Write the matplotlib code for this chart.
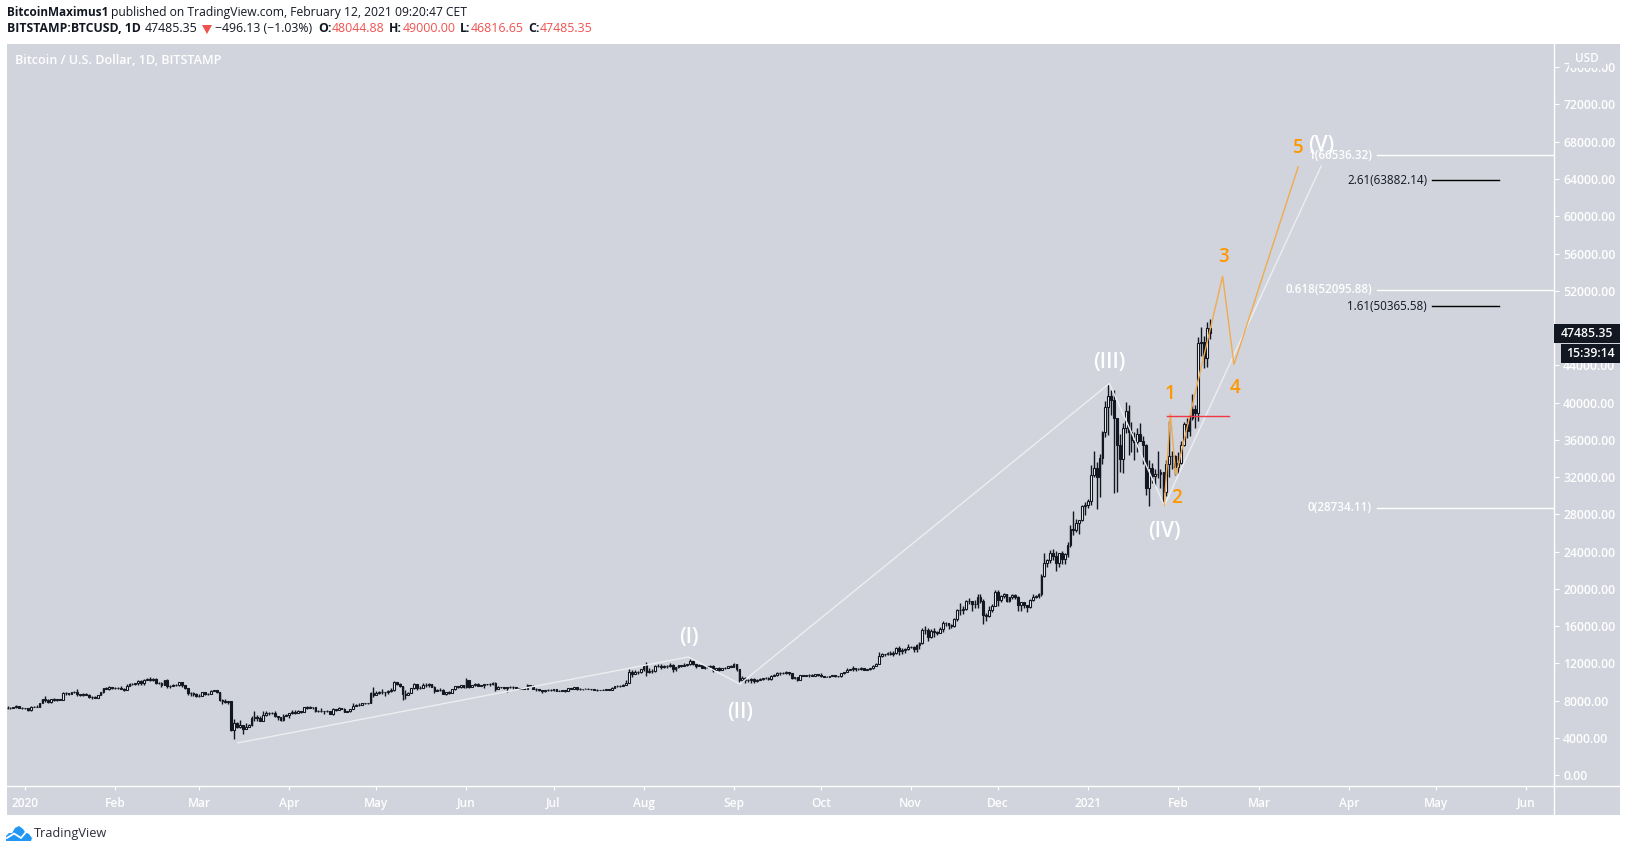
import numpy as np
import matplotlib
matplotlib.use("Agg")
import matplotlib.pyplot as plt
from matplotlib.patches import Rectangle, Polygon
from matplotlib.lines import Line2D

W, H = 1627, 852
plt.rcParams['font.family'] = ['Open Sans', 'DejaVu Sans']

# ---- daily candles, 2019-12-26 .. 2021-02-12
close_2019_12 = [7190,7240,7300,7390,7220,7170]
high_2019_12 = [7440,7270,7360,7520,7400,7320]
low_2019_12 = [7150,7080,7240,7260,7180,7150]
close_2020_01 = [7200,6950,7340,7350,7350,7760,8150,8050,7820,8190,8020,8180,8110,8810,8820,8720,8900,8900,8700,8630,8720,8660,8390,8430,8330,8590,8890,9380,9290,9500,9340]
high_2020_01 = [7250,7220,7400,7390,7500,7800,8210,8460,8180,8200,8300,8200,8200,8880,8910,8860,8980,9000,9200,8750,8780,8790,8680,8520,8450,8600,8970,9410,9440,9540,9490]
low_2020_01 = [7150,6930,6880,7270,7320,7340,7730,7880,7730,7700,7970,8010,8070,8100,8570,8610,8680,8790,8480,8530,8480,8570,8280,8230,8270,8290,8560,8850,9210,9180,9230]
close_2020_02 = [9380,9330,9290,9170,9620,9750,9800,9900,10160,9850,10270,10360,10240,10360,9900,9930,9700,10180,9600,9600,9700,9660,9960,9650,9310,8780,8820,8710,8520]
high_2020_02 = [9460,9470,9610,9350,9770,9860,9880,9950,10180,10180,10310,10480,10490,10390,10390,10050,9970,10250,10300,9680,9770,9740,9990,10020,9680,9380,8980,8900,8800]
low_2020_02 = [9300,9260,9230,9090,9160,9540,9730,9660,9730,9730,9700,10260,10100,10120,9780,9740,9470,9640,9400,9390,9560,9570,9600,9510,9220,8620,8530,8450,8420]
close_2020_03 = [8520,8910,8760,8755,9070,9150,8890,8040,7930,7890,7940,4860,5570,5170,5350,5010,5220,5420,6190,6200,6190,5830,6480,6730,6680,6730,6370,6240,5880,6390,6410]
high_2020_03 = [8760,8950,8910,8850,9170,9180,9190,8900,8180,8150,8000,7940,6000,5660,5960,5380,5560,5460,6400,6900,6440,6400,6850,6840,6770,6800,6850,6300,6250,6530,6520]
low_2020_03 = [8420,8500,8660,8660,8760,9020,8820,8000,7630,7730,7600,4700,3860,5100,5090,4450,5000,5150,5310,5840,5790,5770,5770,6390,6500,6560,6250,5950,5860,5860,6360]
close_2020_04 = [6640,6790,6730,6860,6780,7340,7200,7370,7300,6860,6880,6915,6850,6860,6620,7120,7030,7250,7130,6830,6850,7130,7480,7510,7540,7700,7790,7760,8790,8620]
high_2020_04 = [6680,7000,7000,7000,6900,7370,7460,7420,7370,7320,6950,7180,6880,6990,6940,7190,7150,7290,7260,7210,6940,7150,7770,7600,7700,7720,7800,7780,8960,9450]
low_2020_04 = [6160,6610,6600,6710,6680,6770,7100,7170,7150,6780,6760,6800,6550,6800,6580,6480,6900,7030,7060,6800,6770,6810,7110,7410,7450,7490,7640,7680,7710,8400]
close_2020_05 = [8830,8970,8900,8880,9030,9150,9990,9810,9540,8730,8570,8810,9310,9790,9310,9380,9670,9730,9780,9510,9060,9170,9180,8720,8900,8840,9200,9570,9430,9700,9450]
high_2020_05 = [9060,9040,9200,8960,9100,9400,10070,10040,9900,9580,9170,8980,9380,9940,9840,9580,9880,9950,9890,9840,9580,9270,9310,9300,8980,9020,9220,9620,9600,9720,9700]
low_2020_05 = [8620,8750,8750,8530,8760,8950,9080,9710,9510,8120,8200,8560,8790,9270,9130,9240,9330,9460,9470,9430,8840,9010,9080,8700,8640,8700,8820,9110,9330,9340,9390]
close_2020_06 = [10200,9520,9660,9790,9620,9670,9750,9780,9780,9890,9270,9470,9470,9330,9430,9520,9460,9380,9290,9360,9290,9690,9620,9290,9240,9160,9000,9110,9190,9140]
high_2020_06 = [10400,10230,9700,9880,9850,9730,9800,9800,9880,9990,9970,9560,9490,9490,9500,9580,9540,9480,9400,9400,9410,9780,9720,9680,9340,9290,9190,9190,9230,9200]
low_2020_06 = [9410,9380,9430,9530,9580,9530,9380,9680,9570,9670,9090,9240,9390,9250,8890,9360,9250,9280,9210,9200,9220,9280,9570,9210,9080,9040,8820,8950,9000,9080]
close_2020_07 = [9230,9090,9060,9130,9070,9340,9250,9430,9240,9290,9240,9300,9240,9260,9190,9130,9150,9170,9210,9160,9390,9530,9610,9540,9700,9930,11040,10910,11100,11110,11350]
high_2020_07 = [9290,9260,9130,9190,9140,9360,9370,9460,9450,9320,9290,9340,9340,9280,9270,9210,9190,9220,9230,9220,9430,9560,9680,9650,9740,10170,11400,11240,11340,11180,11450]
low_2020_07 = [9090,9040,9040,9050,8970,9060,9200,9230,9150,9130,9190,9210,9200,9130,9160,9020,9120,9130,9130,9130,9150,9380,9510,9460,9530,9640,9930,10560,10880,10840,10980]
close_2020_08 = [11800,11070,11230,11190,11740,11760,11600,11760,11680,11880,11410,11580,11780,11770,11860,11910,12300,11950,11750,11860,11520,11680,11650,11760,11330,11470,11320,11530,11480,11710,11650]
high_2020_08 = [11880,12100,11480,11420,11800,11900,11920,11800,11800,12060,11940,11620,11800,11850,12020,11930,12470,12400,11970,11890,11880,11690,11710,11830,11780,11540,11590,11550,11590,11720,11790]
low_2020_08 = [11220,10600,11000,11000,11090,11600,11350,11530,11520,11660,11130,11160,11500,11620,11680,11680,11820,11830,11560,11670,11500,11380,11520,11590,11120,11260,11140,11280,11430,11470,11570]
close_2020_09 = [11920,11400,10170,10470,10170,10260,10380,10120,10230,10340,10390,10440,10330,10680,10790,10950,10940,10930,11080,10920,10420,10530,10240,10740,10690,10730,10770,10690,10840,10780]
high_2020_09 = [12070,11950,11450,10640,10570,10370,10400,10430,10350,10480,10410,10580,10570,10760,10840,11100,11040,11040,11180,11050,10990,10570,10530,10790,10760,10800,10810,10860,10860,10850]
low_2020_09 = [11650,11180,10010,9990,9880,10000,9870,9860,10000,10210,10220,10300,10210,10270,10630,10670,10760,10810,10890,10800,10350,10370,10140,10220,10620,10650,10560,10650,10640,10660]
close_2020_10 = [10620,10570,10550,10670,10790,10600,10670,10920,11060,11300,11370,11540,11420,11430,11500,11320,11360,11500,11750,11920,12820,12980,13030,13130,13040,13070,13650,13280,13460,13560,13800]
high_2020_10 = [10930,10670,10600,10700,10800,10800,10680,10960,11110,11490,11400,11730,11550,11560,11640,11550,11430,11520,11820,12020,13200,13170,13050,13200,13350,13350,13780,13860,13640,13670,14100]
low_2020_10 = [10540,10490,10510,10520,10640,10540,10570,10530,10830,11080,11250,11190,11200,11280,11260,11240,11260,11340,11410,11690,11890,12680,12770,12900,12900,12800,12990,12940,12990,13110,13440]
close_2020_11 = [13760,13560,14030,14150,15590,15590,14840,15480,15330,15310,15700,16290,16320,16070,15970,16720,17680,17780,17820,18680,18700,18430,18370,19160,18730,17150,17140,17720,18190,19700]
high_2020_11 = [13890,13830,14070,14270,15750,15970,15770,15670,15850,15480,15960,16500,16490,16350,16180,16880,17860,18480,18180,18810,18970,18750,18770,19400,19500,18900,17450,18200,18340,19850]
low_2020_11 = [13620,13220,13260,13530,14100,15200,14400,14710,14860,15090,15280,15420,15980,15720,15790,15860,16560,17220,17350,17750,18340,17600,18000,18000,18520,16230,16500,17000,17550,18170]
close_2020_12 = [18800,19230,19440,18650,19150,19370,19170,18320,18550,18250,18040,18800,19170,19280,19440,21350,22800,23130,23860,23480,22750,23820,23240,23730,24700,26450,26280,27030,27360,28880,28990]
high_2020_12 = [19900,19300,19570,19500,19180,19420,19400,19250,18630,18560,18290,18940,19400,19340,19550,21550,23800,23260,24170,24300,24100,23840,24100,23800,25000,26900,28380,27500,27400,28970,29300]
low_2020_12 = [18150,18590,19030,18600,18540,18940,18900,17650,17600,17900,17570,17930,18720,19000,19050,19280,21230,22350,22760,23060,21900,22400,22700,22700,23430,24500,25800,26100,25870,27300,27900]
close_2021_01 = [29400,32200,33000,32000,34000,36800,39500,40700,40250,38300,35500,33900,37300,39150,36800,36000,35800,36600,35900,35500,30800,33000,32100,32300,32300,32500,30400,33400,34300,34300,33100]
high_2021_01 = [29700,33300,34800,33650,34500,37000,40200,41950,41350,41300,38250,36600,37800,40100,39700,37900,36800,37300,37800,36400,35600,33800,33500,32900,34800,32900,32500,33800,38000,34800,34400]
low_2021_01 = [28700,29000,32000,28600,29900,33400,36300,36500,38700,30300,30400,32500,32400,36700,34400,34700,33800,34700,35900,33400,30100,28900,31400,31000,31900,30800,29300,30000,32000,32900,32200]
close_2021_02 = [33500,35500,37700,36900,38300,39300,38900,46400,46500,44800,47981,47485.35]
high_2021_02 = [34700,35900,37900,38300,38700,40900,39700,47000,48100,47200,48600,49000]
low_2021_02 = [32300,33400,35350,36200,36400,38100,37300,38000,45000,43700,43800,46816.65]

months = ['2019_12','2020_01','2020_02','2020_03','2020_04','2020_05','2020_06','2020_07','2020_08','2020_09','2020_10','2020_11','2020_12','2021_01','2021_02']
ns = globals()
closes = np.concatenate([ns['close_' + m] for m in months]).astype(float)
highs = np.concatenate([ns['high_' + m] for m in months]).astype(float)
lows = np.concatenate([ns['low_' + m] for m in months]).astype(float)
opens = np.r_[7220.0, closes[:-1]]
opens[-1] = 48044.88
days = np.arange(len(closes)) - len(close_2019_12)   # days since 2020-01-01

# ---- time axis labels (first of month)
tick_dates = ['2020-01-01','2020-02-01','2020-03-01','2020-04-01','2020-05-01','2020-06-01','2020-07-01','2020-08-01','2020-09-01','2020-10-01','2020-11-01','2020-12-01','2021-01-01','2021-02-01','2021-03-01','2021-04-01','2021-05-01','2021-06-01']
tick_labels = ['2020','Feb','Mar','Apr','May','Jun','Jul','Aug','Sep','Oct','Nov','Dec','2021','Feb','Mar','Apr','May','Jun']
price_ticks = list(range(0, 76001, 4000))

# ---- wave counts: x in days since 2020-01-01, y in USD
white_x = [73.3, 228.4, 246.2, 373.4, 392.3, 446.3]
white_y = [3470, 12690, 9790, 42050, 28950, 65380]
white_labels = ['(I)', '(II)', '(III)', '(IV)', '(V)']
white_label_x = [228.7, 246.2, 373.4, 392.3, 446.3]
white_label_y = [14780, 6780, 44280, 26180, 67650]
orange_x = [392.3, 394.4, 396.3, 412.4, 416.3, 438.4]
orange_y = [28950, 38830, 32200, 53570, 44070, 65300]
orange_labels = ['1', '2', '3', '4', '5']
orange_label_x = [394.4, 396.5, 412.6, 416.6, 438.4]
orange_label_y = [40880, 29780, 55650, 41610, 67380]
red_x = [393.3, 414.5]
red_y = [38610, 38610]
# fibonacci levels
fib_white_labels = ['1(66536.32)', '0.618(52095.88)', '0(28734.11)']
fib_white_values = [66536.32, 52095.88, 28734.11]
fib_black_labels = ['2.61(63882.14)', '1.61(50365.58)']
fib_black_values = [63882.14, 50365.58]
last_price = 47485.35

BG = '#d1d4dc'
DARK = '#131722'

fig = plt.figure(figsize=(W / 100, H / 100), dpi=100, facecolor='white')

def fx(x): return x / W
def fy(y): return 1 - y / H

# chart + axis panels background
fig.add_artist(Rectangle((fx(7), fy(815)), (1620 - 7) / W, (815 - 44) / H, transform=fig.transFigure,
                         facecolor=BG, edgecolor='none', zorder=-2))

ax = fig.add_axes([fx(7), fy(786), (1554 - 7) / W, (786 - 44) / H])
ax.patch.set_alpha(0)
ax.set_xlim(-6.2, 526.5)
ax.set_ylim(-1160, 78494)
for s in ['top', 'left']:
    ax.spines[s].set_visible(False)
for s in ['right', 'bottom']:
    ax.spines[s].set_color('white')
    ax.spines[s].set_linewidth(1.0)

# candles
ax.vlines(days, lows, highs, color=DARK, lw=1.0, zorder=2)
up = closes >= opens
ax.bar(days[up], (closes - opens)[up], bottom=opens[up], width=0.62, facecolor='white',
       edgecolor=DARK, linewidth=0.8, zorder=3)
ax.bar(days[~up], (closes - opens)[~up], bottom=opens[~up], width=0.62, facecolor=DARK,
       edgecolor=DARK, linewidth=0.8, zorder=3)

# waves
ax.plot(white_x, white_y, color='#eceef2', lw=1.0, zorder=4, solid_joinstyle='miter')
ax.plot(orange_x, orange_y, color='#f0ab50', lw=1.0, zorder=5, solid_joinstyle='miter')
ax.plot(red_x, red_y, color='#f23645', lw=1.0, zorder=6)
for t, x, y in zip(white_labels, white_label_x, white_label_y):
    ax.text(x, y, t, color='white', fontsize=15, fontweight='semibold', ha='center', va='center', zorder=7)
for t, x, y in zip(orange_labels, orange_label_x, orange_label_y):
    ax.text(x, y, t, color='#ff9800', fontsize=13.5, fontweight='semibold', ha='center', va='center', zorder=7)

# fib levels
for t, v in zip(fib_white_labels, fib_white_values):
    ax.plot([465.4, 526.5], [v, v], color='white', lw=1.0, zorder=4)
    ax.text(463.8, v, t, color='white', fontsize=8.4, fontweight='semibold', ha='right', va='center', zorder=7)
for t, v in zip(fib_black_labels, fib_black_values):
    ax.plot([484.5, 507.5], [v, v], color='black', lw=1.0, zorder=4)
    ax.text(482.8, v, t, color=DARK, fontsize=8.4, ha='right', va='center', zorder=7)

# axes
tick_x = [(np.datetime64(d) - np.datetime64('2020-01-01')).astype(int) for d in tick_dates]
ax.set_xticks(tick_x)
ax.set_xticklabels(tick_labels)
ax.tick_params(axis='x', length=3, width=0.8, color='white', labelcolor='white', labelsize=8.6, pad=5)
for lab in ax.get_xticklabels():
    lab.set_fontweight('semibold')
ax.yaxis.tick_right()
ax.set_yticks(price_ticks)
ax.set_yticklabels(['%.2f' % v for v in price_ticks])
ax.tick_params(axis='y', length=3.6, width=0.8, color='white', labelcolor='white', labelsize=8.8, pad=3)
for lab in ax.get_yticklabels():
    lab.set_fontweight('semibold')

# panel separators beyond the chart
fig.add_artist(Line2D([fx(1554), fx(1554)], [fy(786), fy(815)], color='white', lw=1.0))
fig.add_artist(Line2D([fx(1554), fx(1620)], [fy(786), fy(786)], color='white', lw=1.0))

# USD block partly covers the top price label
fig.add_artist(Rectangle((fx(1569), fy(68)), 37 / W, 20 / H, transform=fig.transFigure,
                         facecolor=BG, edgecolor='none', zorder=2))
fig.text(fx(1587), fy(58), 'USD', color='white', fontsize=8.4, ha='center', va='center', fontweight='semibold')

# last price and countdown tags
fig.add_artist(Rectangle((fx(1554), fy(343)), 66 / W, 19 / H, transform=fig.transFigure,
                         facecolor=DARK, edgecolor='none', zorder=2))
fig.add_artist(Rectangle((fx(1561), fy(363)), 59 / W, 19 / H, transform=fig.transFigure,
                         facecolor=DARK, edgecolor='none', zorder=2))
fig.text(fx(1587), fy(333.5), '%.2f' % last_price, color='white', fontsize=8.8, fontweight='semibold', ha='center', va='center')
fig.text(fx(1590), fy(353.5), '15:39:14', color='white', fontsize=8.8, fontweight='semibold', ha='center', va='center')

# titles
fig.text(fx(15), fy(60), 'Bitcoin / U.S. Dollar, 1D, BITSTAMP', color='white', fontsize=9.1,
         fontweight='semibold', ha='left', va='center')
def head(x, y, s, color=DARK, bold=False, size=8.7):
    fig.text(fx(x), fy(y), s, color=color, fontsize=size, ha='left', va='center',
             fontweight='bold' if bold else 'normal')
head(7, 12.5, 'BitcoinMaximus1', bold=True, size=8.5)
head(110.7, 12.5, 'published on TradingView.com, February 12, 2021 09:20:47 CET')
head(7, 29, 'BITSTAMP:BTCUSD, 1D', bold=True, size=8.8)
head(145, 29, '47485.35', size=8.9)
RED = '#ef5350'
fig.add_artist(Polygon([[fx(202), fy(25)], [fx(212), fy(25)], [fx(207), fy(34)]], closed=True,
                       transform=fig.transFigure, facecolor=RED, edgecolor='none'))
head(215, 29, '\u2212496.13 (\u22121.03%)', size=8.8)
for lx, ltxt, vx, vtxt in [(318, 'O:', 332, '48044.88'), (389, 'H:', 403, '49000.00'),
                           (460, 'L:', 471, '46816.65'), (528, 'C:', 540, '47485.35')]:
    head(lx, 29, ltxt, bold=True, size=8.8)
    head(vx, 29, vtxt, color=RED, size=8.9)

# TradingView mark
BLUE = '#2196f3'
cloud = [[6, 841], [6, 836], [9, 833], [12, 833], [15, 828], [19, 826], [23, 829], [25, 832], [29, 834], [32, 838], [31, 841]]
fig.add_artist(Polygon([[fx(a), fy(b)] for a, b in cloud], closed=True, transform=fig.transFigure,
                       facecolor=BLUE, edgecolor='none'))
zig = [[7, 838], [14, 833.5], [21, 838], [26, 832]]
fig.add_artist(Line2D([fx(a) for a, b in zig], [fy(b) for a, b in zig], color='white', lw=1.3))
fig.text(fx(34), fy(833.5), 'TradingView', color='#2a2e39', fontsize=9.2, ha='left', va='center')

fig.savefig('out.png', dpi=100, facecolor='white')
